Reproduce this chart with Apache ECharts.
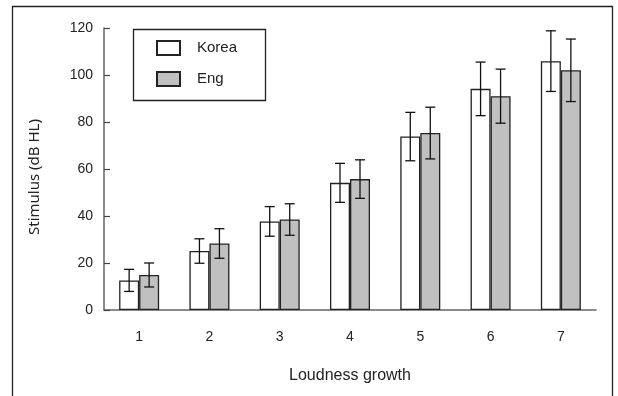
<!DOCTYPE html>
<html>
<head>
<meta charset="utf-8">
<script src="https://cdn.jsdelivr.net/npm/echarts@6/dist/echarts.min.js"></script>
<style>
html,body{margin:0;padding:0;background:#fff;}
#chart{width:618px;height:396px;}
</style>
</head>
<body>
<div id="chart"></div>
<script>
var categories = ['1','2','3','4','5','6','7'];
var korea = [12.6, 25.1, 37.7, 54.1, 73.8, 94.1, 105.9];
var koreaSD = [4.7, 5.2, 6.3, 8.3, 10.3, 11.4, 12.9];
var eng = [14.9, 28.3, 38.5, 55.7, 75.3, 91.0, 102.0];
var engSD = [5.1, 6.3, 6.7, 8.2, 11.0, 11.5, 13.3];
var yTicks = [0, 20, 40, 60, 80, 100, 120];

var FONT = 'Liberation Sans';
var BAR_W = 20;

function errData(vals, sds) {
  return vals.map(function (v, i) { return [i, v - sds[i], v + sds[i]]; });
}
function errRender(offset) {
  return function (params, api) {
    var i = api.value(0);
    var lo = api.coord([i, api.value(1)]);
    var hi = api.coord([i, api.value(2)]);
    var x = lo[0] + offset;
    var cap = 5;
    var st = { stroke: '#111', lineWidth: 1.3 };
    return {
      type: 'group',
      children: [
        { type: 'line', shape: { x1: x, y1: lo[1], x2: x, y2: hi[1] }, style: st },
        { type: 'line', shape: { x1: x - cap, y1: lo[1], x2: x + cap, y2: lo[1] }, style: st },
        { type: 'line', shape: { x1: x - cap, y1: hi[1], x2: x + cap, y2: hi[1] }, style: st }
      ]
    };
  };
}

var chart = echarts.init(document.getElementById('chart'), null, { renderer: 'canvas' });
chart.setOption({
  animation: false,
  backgroundColor: '#fff',
  grid: { left: 104, right: 22, top: 28, bottom: 86, containLabel: false },
  legend: {
    orient: 'vertical',
    left: 156, top: 40,
    icon: 'rect',
    itemWidth: 23, itemHeight: 14, itemGap: 15,
    padding: 0,
    data: ['Korea', 'Eng'],
    textStyle: { fontFamily: FONT, fontSize: 15, color: '#222', padding: [0, 0, 0, 12] }
  },
  graphic: [
    { type: 'polyline', shape: { points: [[12.5, 400], [12.5, 6.5], [612.5, 6.5], [612.5, 400]] },
      style: { stroke: '#222', fill: null, lineWidth: 1.3 }, silent: true },
    { type: 'rect', shape: { x: 133.5, y: 29.5, width: 132, height: 71 },
      style: { stroke: '#222', fill: 'rgba(0,0,0,0)', lineWidth: 1.3 }, z: 10, silent: true },
    { type: 'text', x: 35, y: 177, rotation: Math.PI / 2,
      style: { text: 'Stimulus (dB HL)', fontFamily: 'Noto Sans', fontSize: 15, fill: '#222',
        align: 'center', verticalAlign: 'middle' }, silent: true }
  ],
  xAxis: {
    type: 'category',
    data: categories,
    name: 'Loudness growth',
    nameLocation: 'middle',
    nameGap: 58,
    nameTextStyle: { fontFamily: FONT, fontSize: 16, color: '#222' },
    axisLine: { lineStyle: { color: '#666', width: 1.5 } },
    axisTick: { inside: true, length: 7, lineStyle: { color: '#222', width: 1.2 } },
    axisLabel: { fontFamily: FONT, fontSize: 14, color: '#222', margin: 20 }
  },
  yAxis: {
    type: 'value',
    min: 0, max: 120, interval: 20,
    axisLine: { show: true, lineStyle: { color: '#666', width: 1.5 } },
    axisTick: { show: true, inside: true, length: 6, lineStyle: { color: '#444', width: 1.2 } },
    axisLabel: { fontFamily: FONT, fontSize: 14, color: '#222', margin: 11,
      formatter: function (v) { return yTicks.indexOf(v) >= 0 ? String(v) : ''; } },
    splitLine: { show: false }
  },
  series: [
    { name: 'Korea', type: 'bar', data: korea, barWidth: BAR_W, barGap: '0%',
      itemStyle: { color: '#ffffff', borderColor: '#222', borderWidth: 1.3 } },
    { name: 'Eng', type: 'bar', data: eng, barWidth: BAR_W, barGap: '0%',
      itemStyle: { color: '#c0c0c0', borderColor: '#222', borderWidth: 1.3 } },
    { type: 'custom', data: errData(korea, koreaSD), renderItem: errRender(-BAR_W / 2), z: 5,
      encode: { x: 0, y: [1, 2] } },
    { type: 'custom', data: errData(eng, engSD), renderItem: errRender(BAR_W / 2), z: 5,
      encode: { x: 0, y: [1, 2] } }
  ]
});
</script>
</body>
</html>
